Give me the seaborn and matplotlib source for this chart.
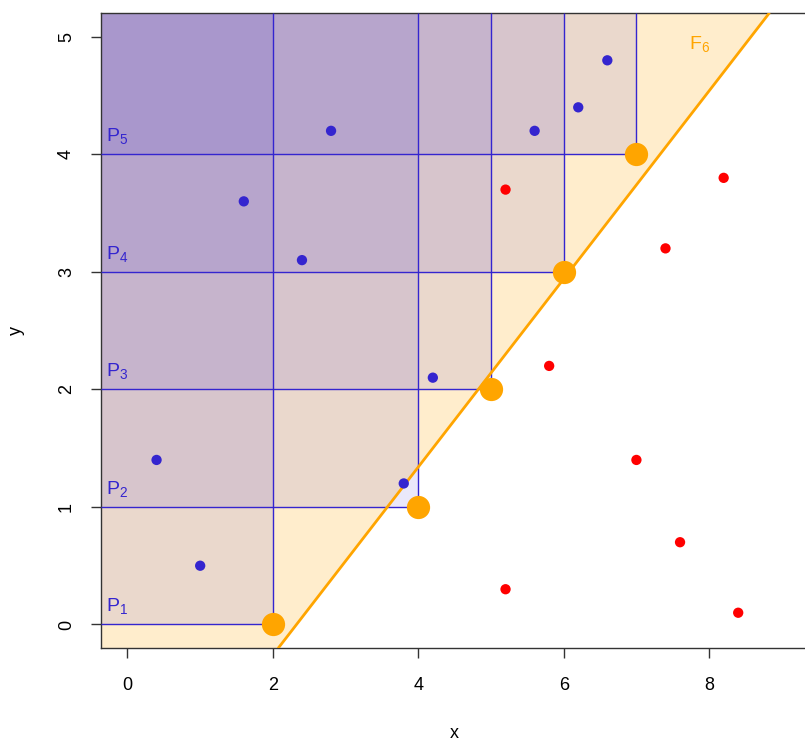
import numpy as np
import pandas as pd
import matplotlib
matplotlib.use("Agg")
import matplotlib.pyplot as plt
import seaborn as sns

# data
blue_x = [0.4, 1.0, 1.6, 2.4, 2.8, 3.8, 4.2, 5.6, 6.2, 6.6]
blue_y = [1.4, 0.5, 3.6, 3.1, 4.2, 1.2, 2.1, 4.2, 4.4, 4.8]
red_x = [5.2, 5.2, 5.8, 7.4, 7.0, 7.6, 8.2, 8.4]
red_y = [3.7, 0.3, 2.2, 3.2, 1.4, 0.7, 3.8, 0.1]
front_x = [2, 4, 5, 6, 7]
front_y = [0, 1, 2, 3, 4]
front_labels = ['$P_1$', '$P_2$', '$P_3$', '$P_4$', '$P_5$']
line_slope = 0.8
line_intercept = -1.86

BLUE = '#3425CF'
ORANGE = '#FFA500'
XLIM = (-0.36, 9.36)
YLIM = (-0.2, 5.2)

sns.set_style('white')
plt.rcParams['font.family'] = ['Liberation Sans', 'DejaVu Sans']
plt.rcParams['mathtext.fontset'] = 'custom'
plt.rcParams['mathtext.rm'] = 'Liberation Sans'
plt.rcParams['mathtext.default'] = 'regular'
plt.rcParams['text.color'] = 'black'
plt.rcParams['axes.labelcolor'] = 'black'
plt.rcParams['xtick.color'] = 'black'
plt.rcParams['ytick.color'] = 'black'

W, H = 805, 744
fig = plt.figure(figsize=(W / 100, H / 100), dpi=100)
ax = fig.add_axes([101.3 / W, (H - 648) / H, (808 - 101.3) / W, (648 - 13.3) / H])
ax.set_xlim(*XLIM)
ax.set_ylim(*YLIM)

#----------------------------------------------------------------------------------------------------------------
# F6 region: everything left of the orange line
yy = np.array(YLIM)
xx = (yy - line_intercept) / line_slope
ax.fill_betweenx(yy, XLIM[0], xx, color=ORANGE, alpha=0.2, linewidth=0, zorder=1)
ax.plot(xx, yy, color=ORANGE, lw=2, zorder=4)

# dominated rectangles
for px, py in zip(front_x, front_y):
    ax.fill_between([XLIM[0], px], py, YLIM[1], color=BLUE, alpha=0.1, linewidth=0, zorder=2)
    ax.hlines(py, XLIM[0], px, color=BLUE, lw=1, zorder=3)
    ax.vlines(px, py, YLIM[1], color=BLUE, lw=1, zorder=3)

for lab, py in zip(front_labels, front_y):
    ax.text(-0.29, py + 0.07, lab, color=BLUE, fontsize=14, ha='left', va='bottom', zorder=5)
ax.text(7.87, 4.94, '$F_6$', color=ORANGE, fontsize=14, ha='center', va='center', zorder=5)

#----------------------------------------------------------------------------------------------------------------
pts = pd.DataFrame({
    'x': blue_x + red_x,
    'y': blue_y + red_y,
    'grp': ['blue'] * len(blue_x) + ['red'] * len(red_x),
})
sns.scatterplot(data=pts, x='x', y='y', hue='grp', palette={'blue': BLUE, 'red': '#FF0000'},
                s=55, linewidth=0, legend=False, ax=ax, zorder=6)
sns.scatterplot(x=front_x, y=front_y, color=ORANGE, s=280, linewidth=0, ax=ax, zorder=7)

#----------------------------------------------------------------------------------------------------------------
ax.set_xticks([0, 2, 4, 6, 8])
ax.set_yticks([0, 1, 2, 3, 4, 5])
ax.tick_params(axis='both', which='both', length=7, width=1, color='#333333',
               labelsize=13, direction='out', bottom=True, left=True, labelcolor='black')
ax.tick_params(axis='x', pad=14)
ax.tick_params(axis='y', pad=12)
for t in ax.get_yticklabels():
    t.set_rotation(90)
    t.set_va('center')
ax.set_xlabel('x', fontsize=13, labelpad=22)
ax.set_ylabel('y', fontsize=13, labelpad=24)
for s in ax.spines.values():
    s.set_color('#333333')
    s.set_linewidth(1)
    s.set_visible(True)

plt.savefig('out.png', dpi=100)
